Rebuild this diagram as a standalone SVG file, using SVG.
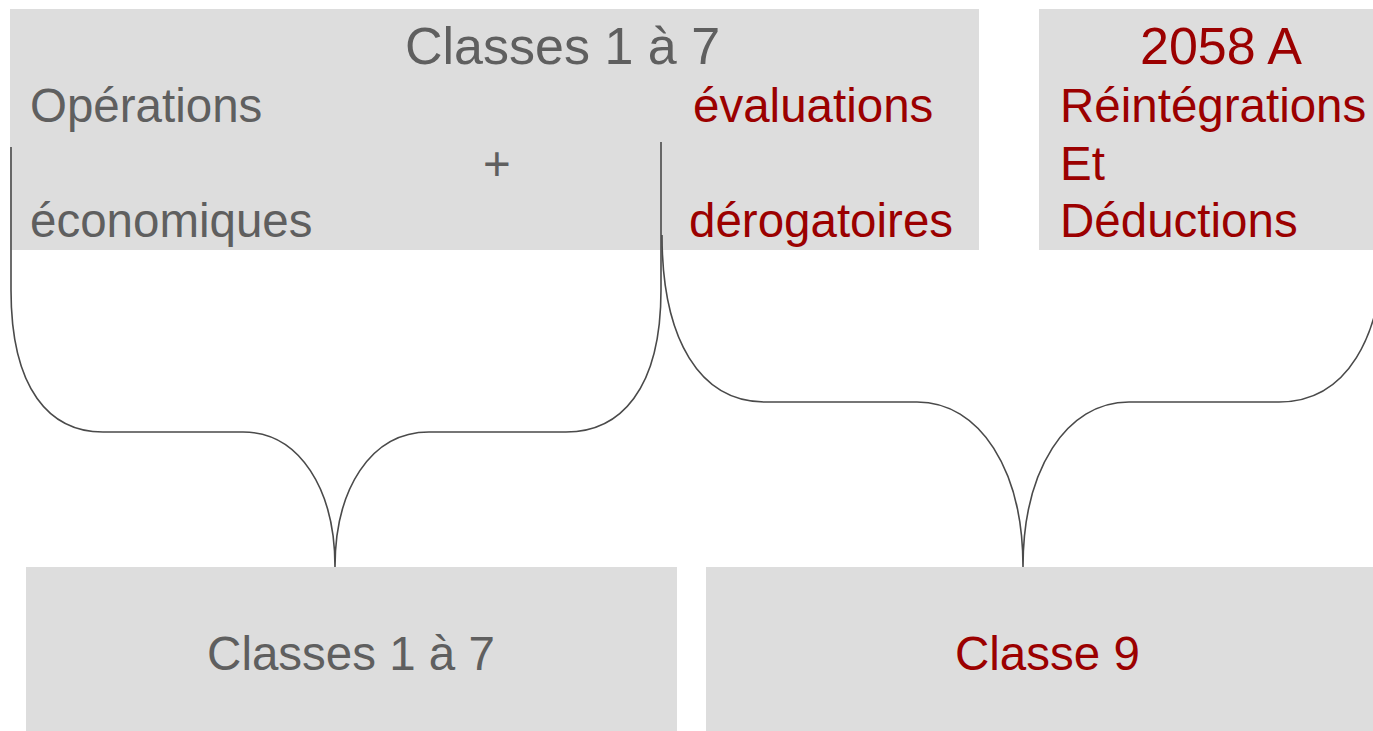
<svg xmlns="http://www.w3.org/2000/svg" width="1373" height="731" viewBox="0 0 1373 731">
<style>
.box{fill:#dddddd}
.t{font-family:"Liberation Sans",Arial,sans-serif;font-size:47.5px}
.big{font-size:52px}
.g{fill:#5f5f5f}
.r{fill:#9b0000}
.br{fill:none;stroke:#4a4a4a;stroke-width:1.6}
</style>
<rect width="1373" height="731" fill="#ffffff"/>
<g id="top-left">
<rect class="box" x="10" y="9" width="969" height="241"/>
<text class="t big g" x="405" y="64">Classes 1 à 7</text>
<text class="t g" x="30" y="122">Opérations</text>
<text class="t g" x="483" y="180">+</text>
<text class="t g" x="30" y="237">économiques</text>
<text class="t r" x="693" y="122">évaluations</text>
<text class="t r" x="689" y="237">dérogatoires</text>
</g>
<g id="top-right">
<rect class="box" x="1039" y="9" width="340" height="241"/>
<text class="t big r" x="1140" y="64">2058 A</text>
<text class="t r" x="1060" y="122">Réintégrations</text>
<text class="t r" x="1060" y="180">Et</text>
<text class="t r" x="1060" y="237">Déductions</text>
</g>
<g id="bottom-left">
<rect class="box" x="26" y="567" width="651" height="164"/>
<text class="t g" x="351" y="670" text-anchor="middle">Classes 1 à 7</text>
</g>
<g id="bottom-right">
<rect class="box" x="706" y="567" width="670" height="164"/>
<text class="t r" x="955" y="670">Classe 9</text>
</g>
<g id="connectors">
<path class="br" d="M11,147 L11,290 C11,390 50,432 103,432 L243,432 C300,432 335,490 335,567 C335,490 370,432 429,432 L566,432 C620,432 661,390 661,290 L661,142"/>
<path class="br" d="M662,235 C662,340 700,402 765,402 L917,402 C980,402 1023,470 1023,567 C1023,470 1066,402 1129,402 L1279,402 C1345,402 1384,340 1384,235"/>
</g>
</svg>
